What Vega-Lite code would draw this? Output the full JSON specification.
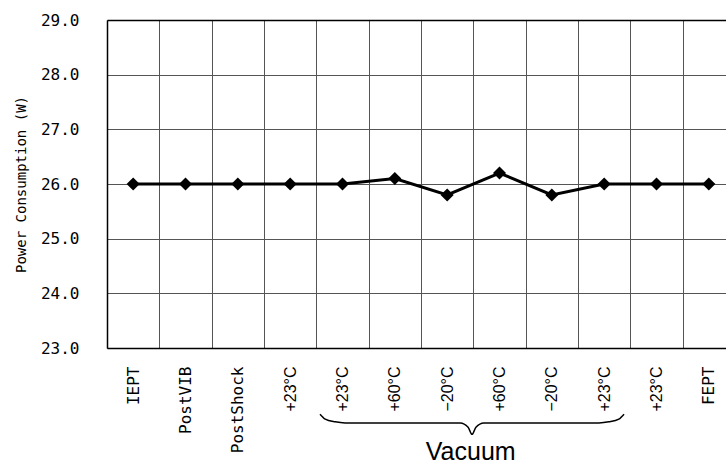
{
  "$schema": "https://vega.github.io/schema/vega-lite/v6.json",
  "autosize": "none",
  "padding": {"left": 107, "top": 20, "right": 0, "bottom": 118},
  "width": 619,
  "height": 328,
  "background": "white",
  "config": {
    "view": {"stroke": null},
    "axis": {"labelColor": "black", "titleColor": "black", "domainColor": "black"}
  },
  "datasets": {
    "main": [
      {"step": 1, "label": "IEPT", "power": 26.0},
      {"step": 2, "label": "PostVIB", "power": 26.0},
      {"step": 3, "label": "PostShock", "power": 26.0},
      {"step": 4, "label": "+23°C", "power": 26.0},
      {"step": 5, "label": "+23°C", "power": 26.0},
      {"step": 6, "label": "+60°C", "power": 26.1},
      {"step": 7, "label": "−20°C", "power": 25.8},
      {"step": 8, "label": "+60°C", "power": 26.2},
      {"step": 9, "label": "−20°C", "power": 25.8},
      {"step": 10, "label": "+23°C", "power": 26.0},
      {"step": 11, "label": "+23°C", "power": 26.0},
      {"step": 12, "label": "FEPT", "power": 26.0}
    ],
    "brace": [
      {"bx": 4.07, "by": 21.79},
      {"bx": 4.17, "by": 21.70},
      {"bx": 4.36, "by": 21.65},
      {"bx": 4.55, "by": 21.63},
      {"bx": 6.75, "by": 21.63},
      {"bx": 6.90, "by": 21.55},
      {"bx": 6.975, "by": 21.42},
      {"bx": 7.05, "by": 21.55},
      {"bx": 7.20, "by": 21.63},
      {"bx": 9.40, "by": 21.63},
      {"bx": 9.59, "by": 21.65},
      {"bx": 9.78, "by": 21.70},
      {"bx": 9.88, "by": 21.79}
    ],
    "note": [{"nx": 6.95, "ny": 21.1, "text": "Vacuum"}]
  },
  "layer": [
    {
      "data": {"name": "main"},
      "encoding": {
        "x": {
          "field": "step",
          "type": "ordinal",
          "scale": {"range": [0, 628], "paddingInner": 0, "paddingOuter": 0},
          "axis": {
            "title": null,
            "tickBand": "extent",
            "ticks": false,
            "grid": true,
            "gridColor": "#555",
            "gridWidth": 1,
            "domainWidth": 1.5,
            "labelAngle": 270,
            "labelPadding": 18,
            "labelFontSize": 16,
            "labelFont": {"condition": {"test": "datum.value >= 4 && datum.value <= 11", "value": "Liberation Sans"}, "value": "DejaVu Sans Mono"},
            "labelExpr": "['IEPT','PostVIB','PostShock','+23°C','+23°C','+60°C','−20°C','+60°C','−20°C','+23°C','+23°C','FEPT'][datum.value - 1]"
          }
        },
        "y": {
          "field": "power",
          "type": "quantitative",
          "title": "Power Consumption (W)",
          "scale": {"domain": [23, 29], "nice": false, "zero": false},
          "axis": {
            "values": [23, 24, 25, 26, 27, 28, 29],
            "format": ".1f",
            "grid": true,
            "gridColor": {"condition": {"test": "datum.value === 29", "value": "black"}, "value": "#555"},
            "gridWidth": {"condition": {"test": "datum.value === 29", "value": 1.5}, "value": 1},
            "ticks": false,
            "domainWidth": 1.5,
            "labelPadding": 28,
            "labelFont": "DejaVu Sans Mono",
            "labelFontSize": 16,
            "titleFont": "DejaVu Sans Mono",
            "titleFontSize": 14,
            "titleFontWeight": "normal",
            "titlePadding": 12
          }
        }
      },
      "layer": [
        {"mark": {"type": "line", "color": "black", "strokeWidth": 3}},
        {"mark": {"type": "point", "shape": "diamond", "filled": true, "color": "black", "size": 170, "opacity": 1}}
      ]
    },
    {
      "data": {"name": "brace"},
      "mark": {"type": "line", "color": "black", "strokeWidth": 1.5, "interpolate": "monotone", "clip": false},
      "encoding": {
        "x": {"field": "bx", "type": "quantitative", "scale": {"domain": [0, 12], "range": [0, 628], "nice": false, "zero": false}, "axis": null},
        "y": {"field": "by", "type": "quantitative", "title": "Power Consumption (W)"}
      }
    },
    {
      "data": {"name": "note"},
      "mark": {"type": "text", "font": "Liberation Sans", "fontSize": 25, "baseline": "middle", "align": "center", "color": "black"},
      "encoding": {
        "x": {"field": "nx", "type": "quantitative", "scale": {"domain": [0, 12], "range": [0, 628], "nice": false, "zero": false}, "axis": null},
        "y": {"field": "ny", "type": "quantitative", "title": "Power Consumption (W)"},
        "text": {"field": "text"}
      }
    }
  ],
  "resolve": {"scale": {"x": "independent"}, "axis": {"x": "independent"}}
}
